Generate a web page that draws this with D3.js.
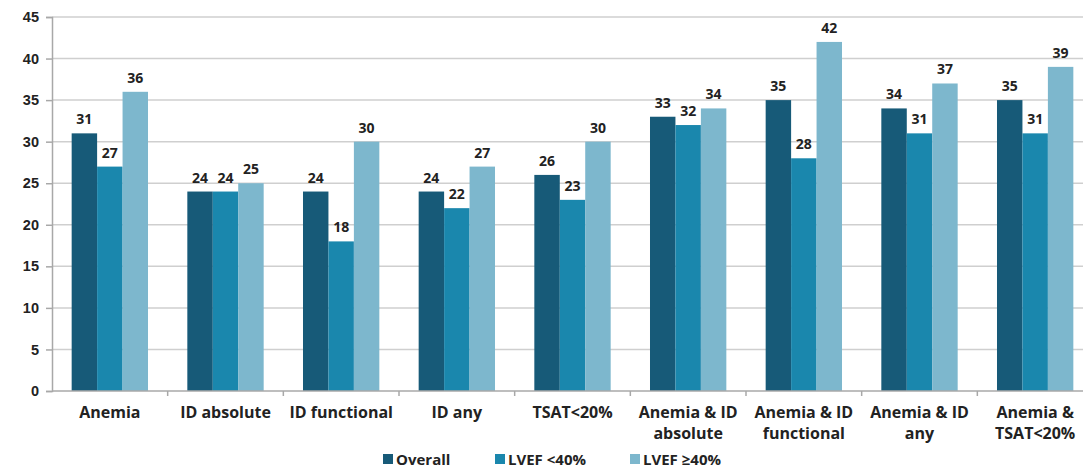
<!DOCTYPE html>
<html>
<head>
<meta charset="utf-8">
<script src="https://cdn.jsdelivr.net/npm/d3@7"></script>
<style>
  html, body { margin: 0; padding: 0; background: #fff; }
  svg { display: block; font-family: "Open Sans", "Liberation Sans", sans-serif; }
</style>
</head>
<body>
<svg id="chart" width="1083" height="469"></svg>
<script>
// Prevalence by subgroup (%)
const categories = [
  ["Anemia"],
  ["ID absolute"],
  ["ID functional"],
  ["ID any"],
  ["TSAT<20%"],
  ["Anemia & ID", "absolute"],
  ["Anemia & ID", "functional"],
  ["Anemia & ID", "any"],
  ["Anemia &", "TSAT<20%"]
];
const seriesNames = ["Overall", "LVEF <40%", "LVEF \u226540%"];
const overall = [31, 24, 24, 24, 26, 33, 35, 34, 35];
const lvefLow = [27, 24, 18, 22, 23, 32, 28, 31, 31];
const lvefHigh = [36, 25, 30, 27, 30, 34, 42, 37, 39];
const yTicks = [0, 5, 10, 15, 20, 25, 30, 35, 40, 45];
const colors = ["#175a78", "#1a87ad", "#7db7cd"];

const series = [overall, lvefLow, lvefHigh];
const svg = d3.select("#chart");

const plotLeft = 52, plotRight = 1093, plotTop = 17, plotBottom = 391;

const x0 = d3.scaleBand().domain(d3.range(categories.length)).range([plotLeft, plotRight]).paddingInner(0.34).paddingOuter(0.17);
const x1 = d3.scaleBand().domain(d3.range(series.length)).range([0, x0.bandwidth()]);
const y = d3.scaleLinear().domain([0, 45]).range([plotBottom, plotTop]);

// gridlines
svg.append("g").selectAll("line").data(yTicks.filter(t => t > 0)).join("line")
  .attr("x1", plotLeft).attr("x2", 1083)
  .attr("y1", d => y(d)).attr("y2", d => y(d))
  .attr("stroke", "#cfcfcf").attr("stroke-width", 1.5);

// y axis
const yAxis = svg.append("g").attr("transform", `translate(${plotLeft},0)`)
  .call(d3.axisLeft(y).tickValues(yTicks).tickSize(6).tickPadding(7));
yAxis.select(".domain").attr("stroke", "#a8a8a8").attr("stroke-width", 1.5);
yAxis.selectAll(".tick line").attr("stroke", "#a8a8a8").attr("stroke-width", 1.5);
yAxis.selectAll(".tick text").attr("font-size", 14.5).attr("font-weight", "bold").attr("fill", "#222");

// bars
const groups = svg.append("g").selectAll("g").data(categories).join("g")
  .attr("transform", (d, i) => `translate(${x0(i)},0)`);
groups.each(function(_, i) {
  const g = d3.select(this);
  series.forEach((s, k) => {
    g.append("rect")
      .attr("x", x1(k)).attr("width", x1.bandwidth())
      .attr("y", y(s[i])).attr("height", y(0) - y(s[i]))
      .attr("fill", colors[k]);
    g.append("text")
      .attr("x", x1(k) + x1.bandwidth() / 2)
      .attr("y", y(s[i]) - 9)
      .attr("text-anchor", "middle")
      .attr("font-size", 14).attr("font-weight", "bold").attr("fill", "#222")
      .text(s[i]);
  });
});

// x axis line and band separators
svg.append("line").attr("x1", plotLeft).attr("x2", 1083).attr("y1", plotBottom).attr("y2", plotBottom)
  .attr("stroke", "#a8a8a8").attr("stroke-width", 1.5);
const step = x0.step();
svg.append("g").selectAll("line").data(d3.range(1, categories.length)).join("line")
  .attr("x1", d => plotLeft + d * step).attr("x2", d => plotLeft + d * step)
  .attr("y1", plotBottom).attr("y2", plotBottom + 5)
  .attr("stroke", "#a8a8a8").attr("stroke-width", 1.5);

// category labels
svg.append("g").selectAll("text").data(categories).join("text")
  .attr("x", (d, i) => x0(i) + x0.bandwidth() / 2)
  .attr("y", 418)
  .attr("text-anchor", "middle")
  .attr("font-size", 16).attr("font-weight", "bold").attr("fill", "#222")
  .each(function(lines) {
    const t = d3.select(this);
    lines.forEach((line, j) => {
      t.append("tspan").attr("x", t.attr("x")).attr("dy", j === 0 ? 0 : 21).text(line);
    });
  });

// legend
const legendX = [383, 495, 630];
const legend = svg.append("g").selectAll("g").data(seriesNames).join("g")
  .attr("transform", (d, i) => `translate(${legendX[i]},454)`);
legend.append("rect").attr("width", 10).attr("height", 10).attr("fill", (d, i) => colors[i]);
legend.append("text").attr("x", 13).attr("y", 10.5)
  .attr("font-size", 15).attr("font-weight", "bold").attr("fill", "#222")
  .text(d => d);
</script>
</body>
</html>
